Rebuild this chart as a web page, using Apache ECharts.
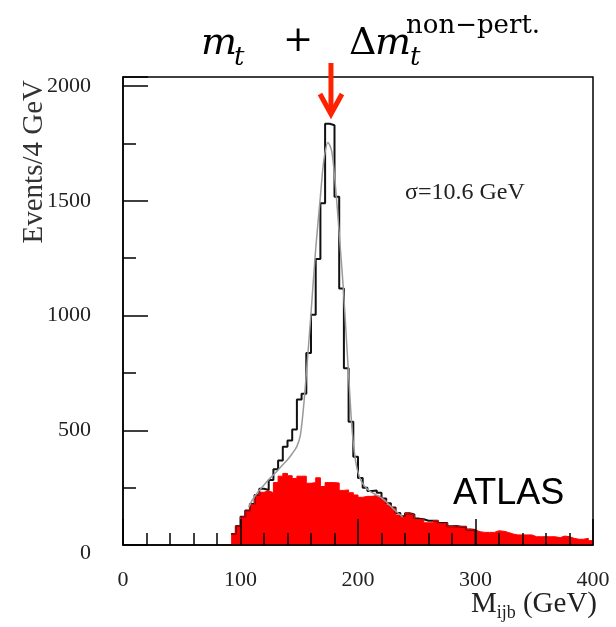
<!DOCTYPE html>
<html>
<head>
<meta charset="utf-8">
<title>M_jjb</title>
<script src="https://cdn.jsdelivr.net/npm/echarts@6/dist/echarts.min.js"></script>
<style>
  html, body { margin: 0; padding: 0; background: #fff; }
  #chart { width: 616px; height: 627px; }
</style>
</head>
<body>
<div id="chart"></div>
<script>
// 4 GeV bins, events per bin
var BIN = 4;
var totalStart = 92;   // black histogram, all jjb combinations
var totalCounts = [
  48, 83, 123, 150, 179, 218, 245, 240, 283, 330,
  368, 428, 455, 503, 634, 659, 837, 1004, 1247, 1490,
  1836, 1830, 1518, 1118, 770, 537, 385, 292, 250, 235,
  238, 228, 203, 182, 163, 140, 125, 138, 133, 115,
  112, 106, 106, 106, 96, 96, 82, 83, 80, 80,
  68, 65
];
var bkgStart = 92;     // red filled, combinatorial background
var bkgCounts = [
  48, 83, 122, 148, 176, 218, 230, 236, 228, 272,
  300, 312, 302, 290, 300, 300, 269, 272, 293, 255,
  272, 272, 270, 238, 240, 228, 218, 208, 212, 212,
  216, 210, 196, 174, 160, 131, 121, 138, 131, 112,
  112, 97, 97, 106, 94, 94, 80, 83, 80, 80,
  68, 65, 58, 55, 55, 55, 62, 60, 55, 48,
  44, 44, 44, 44, 36, 36, 36, 36, 36, 32,
  39, 36, 29, 25, 25, 29, 19
];
// grey fitted curve
var fitX = [107, 110, 115, 120, 124, 128, 132, 136, 140, 144, 148, 151, 154, 157, 160, 164, 168, 171, 174.5,
  177.5, 180, 182.5, 185, 187.5, 190, 192.5, 195, 198, 201, 205, 210, 215, 220, 225, 230, 235, 238];
var fitY = [165, 195, 232, 262, 285, 305, 327, 350, 372, 398, 430, 480, 620, 810, 1010, 1290, 1520, 1680, 1755,
  1720, 1610, 1460, 1290, 1120, 910, 700, 500, 365, 300, 260, 235, 220, 205, 183, 158, 135, 123];

var ARROW_MASS = 177;  // where the red arrow points
var xTicks = [0, 100, 200, 300, 400];

function stepData(start, counts) {
  var d = [];
  for (var i = 0; i < counts.length; i++) {
    d.push([start + i * BIN, counts[i]]);
  }
  d.push([start + counts.length * BIN, 0]);
  return d;
}

var fitData = fitX.map(function (x, i) { return [x, fitY[i]]; });

var serif = '"Liberation Serif", "Times New Roman", serif';
var tickStyle = { color: '#000', width: 1.5 };

var chart = echarts.init(document.getElementById('chart'));
var option = {
  animation: false,
  grid: {
    left: 123, right: 23, top: 77, bottom: 82,
    show: true, borderColor: '#000', borderWidth: 1.5
  },
  xAxis: {
    type: 'value',
    min: xTicks[0], max: xTicks[xTicks.length - 1], interval: 100,
    z: 10,
    axisLine: { show: true, lineStyle: tickStyle },
    axisTick: { show: true, inside: true, length: 26, lineStyle: tickStyle },
    minorTick: { show: true, splitNumber: 5, length: 12, lineStyle: tickStyle },
    splitLine: { show: false },
    axisLabel: { margin: 24, fontFamily: serif, fontSize: 22, color: '#222' }
  },
  yAxis: {
    type: 'value',
    min: 0, max: 2040, interval: 500,
    z: 10,
    axisLine: { show: true, lineStyle: tickStyle },
    axisTick: { show: true, inside: true, length: 25, lineStyle: tickStyle },
    minorTick: { show: true, splitNumber: 2, length: 13, lineStyle: tickStyle },
    splitLine: { show: false },
    axisLabel: {
      margin: 32, showMaxLabel: false,
      fontFamily: serif, fontSize: 22, color: '#222',
      formatter: function (v) { return v === 0 ? '{z|0}' : String(v); },
      rich: { z: { padding: [16, 0, 0, 0], fontFamily: serif, fontSize: 22, color: '#222' } }
    }
  },
  series: [
    {
      name: 'all', type: 'line', step: 'end', symbol: 'none',
      data: stepData(totalStart, totalCounts),
      lineStyle: { color: '#111', width: 2 }
    },
    {
      name: 'combinatorial', type: 'line', step: 'end', symbol: 'none',
      data: stepData(bkgStart, bkgCounts),
      lineStyle: { color: '#ff0000', width: 1 },
      areaStyle: { color: '#ff0000', opacity: 1 }
    },
    {
      name: 'fit', type: 'line', smooth: 0.3, symbol: 'none',
      data: fitData,
      lineStyle: { color: '#999', width: 1.5 }
    }
  ]
};
chart.setOption(option);

var ax = chart.convertToPixel({ xAxisIndex: 0 }, ARROW_MASS);
var red = '#ff2200';
var mathFont = '"DejaVu Serif", serif';

chart.setOption({
  graphic: [
    { type: 'text', x: 201, y: 44, style: { text: 'm', font: 'italic 38px ' + mathFont, fill: '#000', verticalAlign: 'middle' } },
    { type: 'text', x: 234, y: 58, style: { text: 't', font: 'italic 26px ' + mathFont, fill: '#000', verticalAlign: 'middle' } },
    { type: 'text', x: 283, y: 42, style: { text: '+', font: '36px ' + mathFont, fill: '#000', verticalAlign: 'middle' } },
    { type: 'text', x: 349, y: 44, style: { text: 'Δ', font: '38px ' + mathFont, fill: '#000', verticalAlign: 'middle' } },
    { type: 'text', x: 375, y: 44, style: { text: 'm', font: 'italic 38px ' + mathFont, fill: '#000', verticalAlign: 'middle' } },
    { type: 'text', x: 410, y: 58, style: { text: 't', font: 'italic 26px ' + mathFont, fill: '#000', verticalAlign: 'middle' } },
    { type: 'text', x: 406, y: 26, style: { text: 'non−pert.', font: '26px ' + mathFont, fill: '#000', verticalAlign: 'middle' } },
    { type: 'line', shape: { x1: ax, y1: 63, x2: ax, y2: 112 }, style: { stroke: red, lineWidth: 5 } },
    { type: 'polyline', shape: { points: [[ax - 11, 94], [ax, 114], [ax + 11, 94]] },
      style: { stroke: red, lineWidth: 5, fill: null, lineJoin: 'miter' } },
    { type: 'text', x: 405, y: 193, style: { text: 'σ=10.6 GeV', font: '24px ' + serif, fill: '#222', verticalAlign: 'middle' } },
    { type: 'text', x: 453, y: 494, style: { text: 'ATLAS', font: '36px "Liberation Sans", Arial, sans-serif', fill: '#000', verticalAlign: 'middle' } },
    { type: 'text', x: 34, y: 80, rotation: Math.PI / 2,
      style: { text: 'Events/4 GeV', font: '29px ' + serif, fill: '#333', align: 'right', verticalAlign: 'middle' } },
    { type: 'text', x: 597, y: 604,
      style: {
        text: '{a|M}{s|ijb}{a| (GeV)}', align: 'right', verticalAlign: 'middle', fill: '#222',
        rich: {
          a: { fontFamily: serif, fontSize: 29, fill: '#222' },
          s: { fontFamily: serif, fontSize: 18, padding: [18, 0, 0, 0], fill: '#222' }
        }
      } }
  ]
});
</script>
</body>
</html>
